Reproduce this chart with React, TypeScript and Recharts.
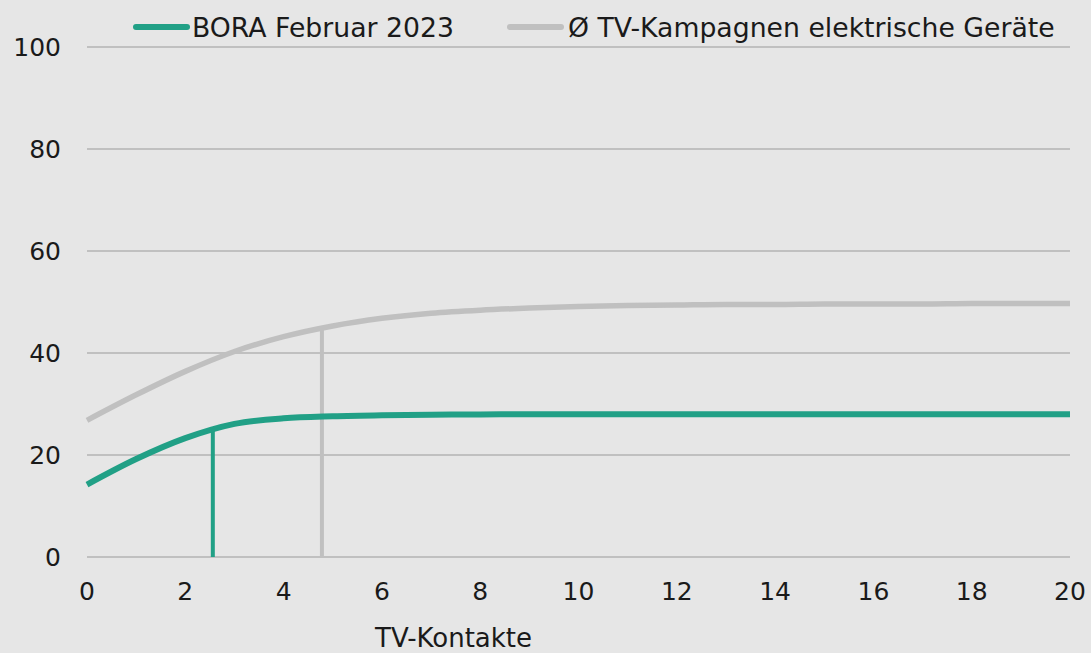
import React from 'react'
import {
  LineChart, Line, XAxis, YAxis, CartesianGrid, Legend, ReferenceLine,
} from 'recharts'

// TV-Kontakte (x axis)
const contacts = [0, 1, 2, 3, 4, 5, 6, 7, 8, 9, 10, 11, 12, 13, 14, 15, 16, 17, 18, 19, 20]
const bora = [14.2, 19.2, 23.3, 26.1, 27.2, 27.6, 27.8, 27.9, 27.95, 28, 28, 28, 28, 28, 28, 28, 28, 28, 28, 28, 28]
const avgTv = [26.8, 31.8, 36.4, 40.3, 43.2, 45.3, 46.8, 47.8, 48.4, 48.8, 49.1, 49.3, 49.4, 49.5, 49.5, 49.6, 49.6, 49.6, 49.7, 49.7, 49.7]

const xTicks = [0, 2, 4, 6, 8, 10, 12, 14, 16, 18, 20]
const yTicks = [0, 20, 40, 60, 80, 100]

// optimum marker per series: [x, y]
const boraMarker = [2.56, 25.2]
const avgMarker = [4.78, 45.0]

const GREEN = '#21a086'
const GREY = '#c0c0c0'
const FONT = '"DejaVu Sans", sans-serif'
const TEXT = '#1a1a1a'

const data = contacts.map((x, i) => ({ x, bora: bora[i], avg: avgTv[i] }))

const LegendBox = () => (
  <div style={{ height: 40, display: 'flex', alignItems: 'center', paddingLeft: 133, fontFamily: FONT, fontSize: 26.7, color: TEXT }}>
    <div style={{ display: 'flex', alignItems: 'center' }}>
      <span style={{ width: 57, height: 6, borderRadius: 3, background: GREEN, marginRight: 2 }} />
      <span>BORA Februar 2023</span>
    </div>
    <div style={{ display: 'flex', alignItems: 'center', marginLeft: 53 }}>
      <span style={{ width: 57, height: 6, borderRadius: 3, background: GREY, marginRight: 4 }} />
      <span>Ø TV-Kampagnen elektrische Geräte</span>
    </div>
  </div>
)

export default function App() {
  const tick = { fontFamily: FONT, fontSize: 25, fill: TEXT }
  return (
    <div style={{ width: 1091, height: 653, background: '#e6e6e6' }}>
      <style>{'body { margin: 0; }'}</style>
      <LineChart width={1091} height={653} data={data} margin={{ top: 7, right: 21, left: 0, bottom: 0 }}>
        <Legend verticalAlign="top" align="left" content={() => <LegendBox />} />
        <CartesianGrid vertical={false} stroke="#b3b3b3" strokeWidth={1.5} />
        <XAxis
          dataKey="x"
          type="number"
          domain={[0, 20]}
          ticks={xTicks}
          axisLine={false}
          tickLine={false}
          tickSize={0}
          tickMargin={25}
          height={96}
          tick={tick}
          label={{
            content: (props: any) => (
              <text x={props.viewBox.x + 288} y={props.viewBox.y + 90} fontFamily={FONT} fontSize={26} fill={TEXT}>
                TV-Kontakte
              </text>
            ),
          }}
        />
        <YAxis
          type="number"
          domain={[0, 100]}
          ticks={yTicks}
          axisLine={false}
          tickLine={false}
          tickSize={0}
          tickMargin={26}
          width={87}
          tick={tick}
        />
        <ReferenceLine
          segment={[{ x: boraMarker[0], y: 0 }, { x: boraMarker[0], y: boraMarker[1] }]}
          stroke={GREEN}
          strokeWidth={4}
        />
        <ReferenceLine
          segment={[{ x: avgMarker[0], y: 0 }, { x: avgMarker[0], y: avgMarker[1] }]}
          stroke={GREY}
          strokeWidth={4}
        />
        <Line type="monotone" dataKey="avg" stroke={GREY} strokeWidth={5.5} dot={false} activeDot={false} isAnimationActive={false} />
        <Line type="monotone" dataKey="bora" stroke={GREEN} strokeWidth={6} dot={false} activeDot={false} isAnimationActive={false} />
      </LineChart>
    </div>
  )
}
